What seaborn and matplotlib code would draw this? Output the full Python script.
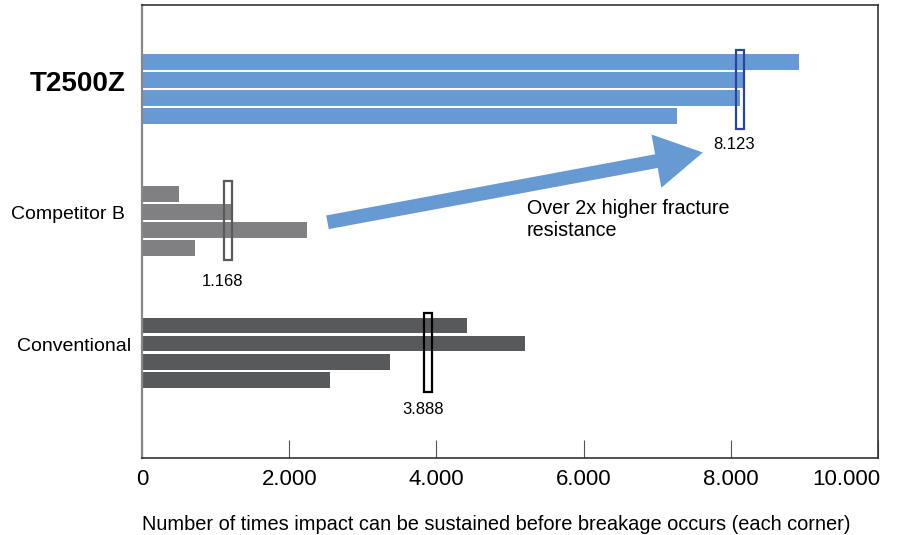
import matplotlib.pyplot as plt
import matplotlib.transforms as mtransforms
from matplotlib.patches import Rectangle
from matplotlib.ticker import FuncFormatter
import seaborn as sns
import pandas as pd

# Data (impacts per corner)
products = ['T2500Z', 'Competitor B', 'Conventional']
corners = ['Corner 1', 'Corner 2', 'Corner 3', 'Corner 4']
t2500z_vals = [8930, 8170, 8120, 7272]
competitor_b_vals = [500, 1210, 2240, 722]
conventional_vals = [4416, 5208, 3376, 2552]
mean_vals = [8123, 1168, 3888]
x_ticks = [0, 2000, 4000, 6000, 8000, 10000]

bar_colors = ['#6799d3', '#808083', '#58595b']
marker_colors = ['#2a45a0', '#5a5a5c', '#000000']

rows = []
for prod, vals in zip(products, [t2500z_vals, competitor_b_vals, conventional_vals]):
    for c, v in zip(corners, vals):
        rows.append({'product': prod, 'corner': c, 'impacts': v})
df = pd.DataFrame(rows)

sns.set_theme(style='white')
plt.rcParams['font.family'] = ['Liberation Sans', 'DejaVu Sans']
plt.rcParams['text.color'] = 'black'
plt.rcParams['axes.labelcolor'] = 'black'
plt.rcParams['xtick.labelcolor'] = 'black'
plt.rcParams['ytick.labelcolor'] = 'black'

fig = plt.figure(figsize=(8.98, 5.35), dpi=100)
ax = fig.add_axes([142 / 898, 1 - 458 / 535, (878 - 142) / 898, (458 - 5) / 535])

sns.barplot(data=df, y='product', x='impacts', hue='corner', orient='h',
            order=products, hue_order=corners, width=0.548, gap=0.13,
            palette=['#999999'] * 4, legend=False, ax=ax, saturation=1)

# colour every bar by its product group
for p in ax.patches:
    idx = int(round(p.get_y() + p.get_height() / 2))
    p.set_facecolor(bar_colors[idx])
    p.set_edgecolor('none')

# mean markers + labels
mw = 110
label_dy = [-6, -10, -7]
for i, m in enumerate(mean_vals):
    ax.add_patch(Rectangle((m - mw / 2, i - 0.30), mw, 0.60, facecolor='none',
                           edgecolor=marker_colors[i], linewidth=1.6, zorder=5))
    ax.annotate(f'{m:,}'.replace(',', '.'), xy=(m, i + 0.30), xytext=(-4, label_dy[i]),
                textcoords='offset points', ha='center', va='top', fontsize=12)

ax.set_xlim(0, 10000)
ax.set_ylim(2.80, -0.64)
ax.set_xticks(x_ticks)
ax.xaxis.set_major_formatter(FuncFormatter(lambda v, _: f'{int(v):,}'.replace(',', '.')))
ax.tick_params(axis='x', direction='in', length=13, width=0.8, color='#555555',
               pad=8, labelsize=16, bottom=True)
ax.tick_params(axis='y', length=0, pad=12, labelsize=14)
ax.set_xlabel('Number of times impact can be sustained before breakage occurs (each corner)',
              fontsize=14.4, labelpad=18, loc='left')
ax.set_ylabel('')

# last tick label pulled inside the figure
fig.canvas.draw()
xl = ax.get_xticklabels()
xl[-1].set_horizontalalignment('right')
xl[-1].set_transform(xl[-1].get_transform() + mtransforms.ScaledTranslation(2 / 72, 0, fig.dpi_scale_trans))

for lab in ax.get_yticklabels():
    dx = 4 if lab.get_text() == 'Conventional' else 0
    lab.set_transform(lab.get_transform() + mtransforms.ScaledTranslation(dx / 72, 6 / 72, fig.dpi_scale_trans))
    if lab.get_text() == 'T2500Z':
        lab.set_fontsize(20)
        lab.set_fontweight('bold')

for s in ax.spines.values():
    s.set_visible(True)
    s.set_color('#333333')
    s.set_linewidth(1.2)
ax.spines['left'].set_color('#888888')
ax.spines['left'].set_linewidth(1.6)

# big arrow
ax.annotate('', xy=(7620, 0.48), xytext=(2520, 1.01),
            arrowprops=dict(arrowstyle='simple,head_length=34,head_width=39,tail_width=10',
                            mutation_scale=1, color='#6799d3', shrinkA=0, shrinkB=0, lw=0))
ax.text(5230, 0.835, 'Over 2x higher fracture\nresistance', fontsize=14.2, ha='left', va='top',
        linespacing=1.2)

plt.savefig('out.png', dpi=100)
